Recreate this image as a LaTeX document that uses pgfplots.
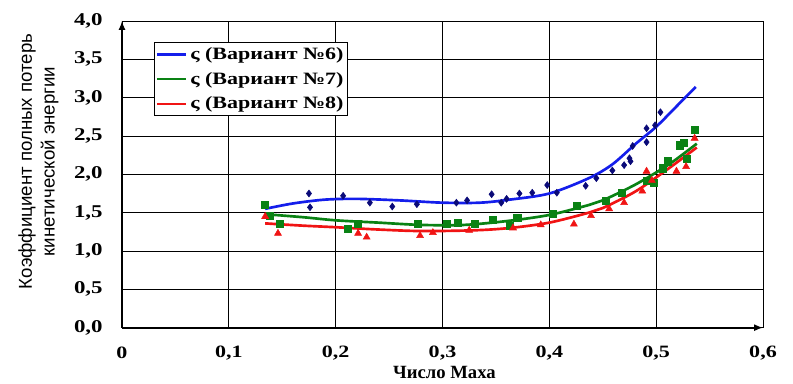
\documentclass[border=0pt]{standalone}
\usepackage{fontspec}
\setmainfont{Liberation Serif}
\newfontfamily\labelsans{Liberation Sans}
\newfontfamily\wideserif[FakeStretch=1.27]{Liberation Serif}
\usepackage{pgfplots}
\usepackage{pgfplotstable}
\pgfplotsset{compat=1.18}

% measured loss coefficient, variant 6
\pgfplotstableread{
x y
0.175 1.75
0.176 1.57
0.207 1.72
0.232 1.63
0.253 1.58
0.276 1.61
0.313 1.63
0.323 1.66
0.346 1.74
0.355 1.63
0.360 1.68
0.372 1.75
0.384 1.76
0.398 1.86
0.407 1.76
0.434 1.85
0.444 1.95
0.459 2.05
0.470 2.12
0.476 2.17
0.475 2.21
0.478 2.37
0.491 2.42
0.491 2.60
0.499 2.64
0.504 2.81
}\ptsA
% variant 7
\pgfplotstableread{
x y
0.134 1.60
0.138 1.46
0.148 1.36
0.211 1.29
0.221 1.36
0.277 1.36
0.304 1.36
0.314 1.37
0.330 1.36
0.347 1.41
0.363 1.33
0.370 1.43
0.403 1.49
0.426 1.59
0.453 1.66
0.468 1.76
0.491 1.92
0.498 1.89
0.506 2.08
0.511 2.17
0.522 2.38
0.526 2.41
0.529 2.20
0.536 2.58
}\ptsB
% variant 8
\pgfplotstableread{
x y
0.134 1.45
0.146 1.23
0.221 1.23
0.229 1.18
0.279 1.20
0.291 1.24
0.325 1.27
0.366 1.30
0.392 1.34
0.423 1.35
0.439 1.46
0.456 1.55
0.470 1.63
0.487 1.78
0.491 2.04
0.496 1.92
0.519 2.04
0.528 2.10
0.536 2.47
}\ptsC
% approximating curves
\pgfplotstableread{
x y
0.134 1.55
0.160 1.62
0.190 1.67
0.220 1.68
0.260 1.66
0.300 1.63
0.335 1.63
0.363 1.67
0.400 1.75
0.437 1.95
0.459 2.13
0.481 2.40
0.500 2.62
0.520 2.90
0.537 3.14
}\fitA
\pgfplotstableread{
x y
0.134 1.48
0.170 1.44
0.200 1.40
0.240 1.37
0.280 1.34
0.320 1.34
0.360 1.39
0.400 1.47
0.437 1.60
0.450 1.66
0.481 1.87
0.512 2.13
0.538 2.40
}\fitB
\pgfplotstableread{
x y
0.134 1.36
0.170 1.33
0.200 1.31
0.240 1.28
0.280 1.26
0.330 1.27
0.363 1.30
0.400 1.37
0.437 1.50
0.450 1.56
0.481 1.78
0.512 2.08
0.538 2.35
}\fitC

\definecolor{cblue}{RGB}{20,30,235}
\definecolor{cnavy}{RGB}{10,10,120}
\definecolor{cgreen}{RGB}{10,130,20}
\definecolor{cred}{RGB}{240,20,20}

\begin{document}
\begin{tikzpicture}
\begin{axis}[
  scale only axis,
  width=480.75pt, height=230pt,
  xmin=0, xmax=0.6, ymin=0, ymax=4,
  enlargelimits=false,
  axis lines=left,
  axis line style={line width=1.3pt, -latex},
  xtick={0,0.1,...,0.6},
  ytick={0,0.5,...,4},
  major tick length=0pt,
  grid=major,
  major grid style={black, line width=0.6pt},
  /pgf/number format/assume math mode=true,
  /pgf/number format/use comma,
  xticklabel style={font=\wideserif\fontsize{13}{15}\selectfont\bfseries, anchor=center, yshift=-19pt,
    /pgf/number format/fixed, /pgf/number format/precision=1},
  yticklabel style={font=\wideserif\fontsize{13.5}{15}\selectfont\bfseries, anchor=east, xshift=-11pt,
    /pgf/number format/fixed, /pgf/number format/fixed zerofill, /pgf/number format/precision=1},
  xlabel={Число Маха},
  xlabel style={font=\fontsize{14}{16}\selectfont\bfseries, at={(axis description cs:0.503,0)}, anchor=base, yshift=-38pt},
  ylabel={Коэффициент полных потерь\\кинетической энергии},
  ylabel style={font=\labelsans\fontsize{14}{17}\selectfont, align=center, at={(axis description cs:-0.1303,0.542)}, anchor=center},
  legend style={at={(axis cs:0.03,3.72)}, anchor=north west, draw=black, line width=0.5pt, fill=white,
    font=\wideserif\fontsize{13}{15}\selectfont\bfseries, inner xsep=1pt, inner ysep=1.5pt,
    row sep=4pt, cells={anchor=west}},
  legend image code/.code={\draw[#1, mark=none, line width=2pt] (0pt,0pt) -- (22pt,0pt);},
  clip=false,
]
\addplot[cblue, line width=2pt, smooth, tension=0.5] table {\fitA};
\addlegendentry{ς (Вариант №6)}
\addplot[cgreen, line width=2pt, smooth, tension=0.5] table {\fitB};
\addlegendentry{ς (Вариант №7)}
\addplot[cred, line width=2pt, smooth, tension=0.5] table {\fitC};
\addlegendentry{ς (Вариант №8)}
\addplot[only marks, mark=diamond*, mark size=2.6pt, cnavy, forget plot] table {\ptsA};
\addplot[only marks, mark=square*, mark size=2.7pt, cgreen, forget plot] table {\ptsB};
\addplot[only marks, mark=triangle*, mark size=3pt, cred, forget plot] table {\ptsC};
\end{axis}
\pgfresetboundingbox
\path (current axis.south west) ++(-91.5pt,-42pt) coordinate (bbA);
\path (current axis.north east) ++(22.5pt,15.75pt) coordinate (bbB);
\useasboundingbox (bbA) rectangle (bbB);
\end{tikzpicture}
\end{document}
